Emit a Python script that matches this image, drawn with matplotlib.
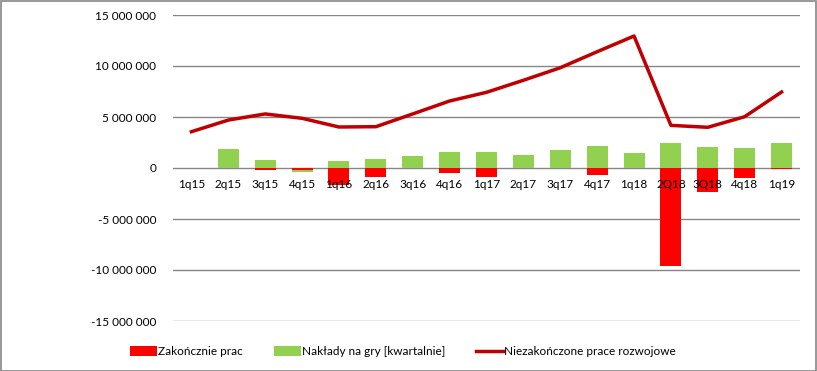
import numpy as np
import matplotlib as mpl
import matplotlib.pyplot as plt
import matplotlib.ticker as ticker
from matplotlib.patches import Rectangle

mpl.rcParams['font.family'] = ['Lato', 'DejaVu Sans']
mpl.rcParams['font.size'] = 8.5

# quarters
quarters = ['1q15', '2q15', '3q15', '4q15', '1q16', '2q16', '3q16', '4q16', '1q17',
            '2q17', '3q17', '4q17', '1q18', '2Q18', '3Q18', '4q18', '1q19']

# values
zakonczenie = [0, 0, -0.2e6, -0.15e6, -1.67e6, -0.85e6, 0, -0.49e6, -0.88e6,
               0, 0, -0.69e6, 0, -9.6e6, -2.35e6, -0.98e6, -0.1e6]
naklady = [0, 1.86e6, 0.78e6, -0.25e6, 0.69e6, 0.88e6, 1.18e6, 1.57e6, 1.57e6,
           1.27e6, 1.76e6, 2.16e6, 1.47e6, 2.45e6, 2.06e6, 1.96e6, 2.45e6]
niezakonczone = [3.56e6, 4.7e6, 5.3e6, 4.87e6, 4.02e6, 4.05e6, 5.3e6, 6.57e6, 7.42e6,
                 8.6e6, 9.83e6, 11.4e6, 12.94e6, 4.18e6, 3.99e6, 5.03e6, 7.45e6]

red = '#FF0000'
green = '#92D050'
line_c = '#C00000'
grid_c = '#868686'

W, H = 817, 371
fig = plt.figure(figsize=(W / 100., H / 100.), dpi=100, facecolor='w')
ax = fig.add_axes([173. / W, 1 - 321. / H, (800. - 173.) / W, (321. - 15.) / H])

x = np.arange(len(quarters))
z = np.array(zakonczenie)
n = np.array(naklady)

# stacked like excel: negatives stack below, positives above
z_base = np.zeros_like(z)
n_base = np.where(n < 0, np.minimum(z, 0), np.maximum(z, 0))

yticks = np.arange(-15e6, 15e6 + 1, 5e6)
for yv in yticks:
    ax.axhline(yv, color=grid_c, linewidth=1, zorder=0)

b1 = ax.bar(x, z, 0.57, bottom=z_base, color=red, zorder=1)
b2 = ax.bar(x, n, 0.57, bottom=n_base, color=green, zorder=1)
l1, = ax.plot(x, niezakonczone, color=line_c, linewidth=2.5, zorder=3,
              solid_joinstyle='round')

ax.set_xlim(-0.5, len(quarters) - 0.5)
ax.set_ylim(-15e6, 15e6)
ax.set_yticks(yticks)
ax.yaxis.set_major_formatter(ticker.FuncFormatter(
    lambda v, p: '{:,.0f}'.format(v).replace(',', ' ')))

for s in ['top', 'right', 'left', 'bottom']:
    ax.spines[s].set_visible(False)
ax.spines['bottom'].set_position(('data', 0))

ax.set_xticks(x)
ax.set_xticklabels(quarters)
ax.tick_params(axis='x', length=0, pad=8, colors='black')
ax.tick_params(axis='y', length=0, pad=12, colors='black')

ax.legend([b1, b2, l1],
          ['Zakończnie prac', 'Nakłady na gry [kwartalnie]', 'Niezakończone prace rozwojowe'],
          loc='center', bbox_to_anchor=(0.367, -0.1), ncol=3, frameon=False,
          handlelength=2.3, handleheight=0.9, handletextpad=0.1, columnspacing=2.6,
          fontsize=8.5)

fig.add_artist(Rectangle((0.5 / W, 0.5 / H), 1 - 1.5 / W, 1 - 1.5 / H,
                         transform=fig.transFigure, fill=False,
                         edgecolor=grid_c, linewidth=1.2))

plt.savefig('out.png', dpi=100, facecolor='w')
plt.close()
